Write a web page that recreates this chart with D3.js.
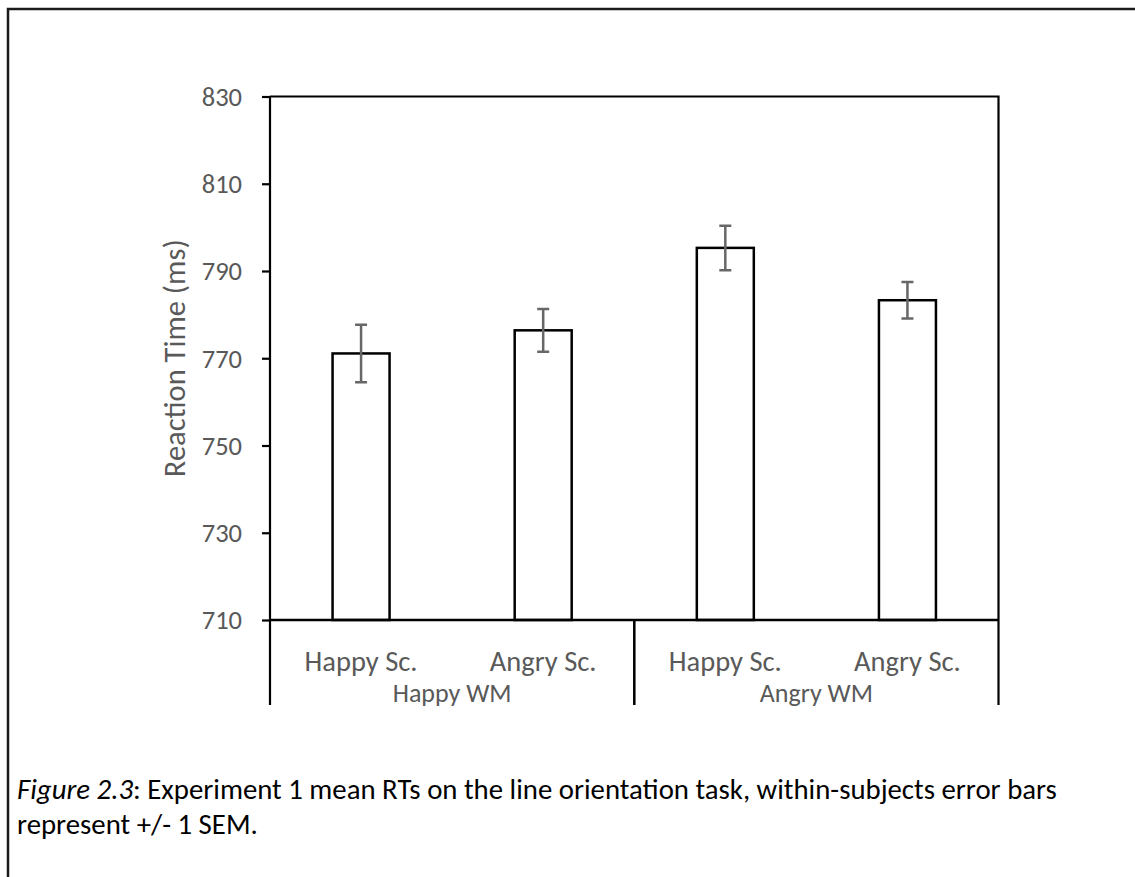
<!DOCTYPE html>
<html>
<head>
<meta charset="utf-8">
<script src="https://cdn.jsdelivr.net/npm/d3@7"></script>
<style>
  html, body { margin: 0; padding: 0; background: #fff; }
  svg { display: block; }
  text { font-family: Carlito, Lato, "Open Sans", sans-serif; }
</style>
</head>
<body>
<svg id="chart" width="1135" height="877"></svg>
<script>
// Mean reaction times per condition (ms) with within-subjects SEM
const conditions = ["Happy Sc.", "Angry Sc.", "Happy Sc.", "Angry Sc."];
const groups = ["Happy WM", "Happy WM", "Angry WM", "Angry WM"];
const groupNames = ["Happy WM", "Angry WM"];
const meanRT = [771.1, 776.4, 795.3, 783.3];
const sem = [6.6, 4.9, 5.1, 4.2];
const yTicks = [710, 730, 750, 770, 790, 810, 830];

const svg = d3.select("#chart");
const W = 1135, H = 877;

const plot = { left: 270, right: 998.5, top: 96.5, bottom: 620, catBottom: 705 };

const ids = conditions.map((c, i) => i);

const x = d3.scaleBand()
  .domain(ids)
  .range([plot.left, plot.right])
  .paddingInner(0.687)
  .paddingOuter(0.3435);

const y = d3.scaleLinear()
  .domain([710, 830])
  .range([plot.bottom, plot.top]);

// Outer figure frame (runs off the right and bottom of the page)
svg.append("rect")
  .attr("x", 8).attr("y", 9)
  .attr("width", W + 20).attr("height", H + 20)
  .attr("fill", "none")
  .attr("stroke", "#1a1a1a")
  .attr("stroke-width", 2.5);

// Plot area border (top and right)
svg.append("path")
  .attr("d", `M${plot.left},${plot.top}H${plot.right}V${plot.bottom}`)
  .attr("fill", "none")
  .attr("stroke", "#000")
  .attr("stroke-width", 2.2);

// Bars
svg.append("g").selectAll("rect")
  .data(ids)
  .join("rect")
  .attr("x", i => x(i))
  .attr("y", i => y(meanRT[i]))
  .attr("width", x.bandwidth())
  .attr("height", i => y(710) - y(meanRT[i]))
  .attr("fill", "#fff")
  .attr("stroke", "#000")
  .attr("stroke-width", 2.5);

// Error bars
const err = svg.append("g")
  .attr("stroke", "#676767")
  .attr("stroke-width", 2.5)
  .attr("fill", "none");
ids.forEach(i => {
  const cx = x(i) + x.bandwidth() / 2;
  const y0 = y(meanRT[i] - sem[i]);
  const y1 = y(meanRT[i] + sem[i]);
  err.append("path")
    .attr("d", `M${cx},${y0}V${y1}M${cx - 6},${y1}H${cx + 6}M${cx - 6},${y0}H${cx + 6}`);
});

// Y axis
const yAxis = d3.axisLeft(y)
  .tickValues(yTicks)
  .tickSize(8)
  .tickPadding(8)
  .tickFormat(d3.format("d"));
const gy = svg.append("g")
  .attr("transform", `translate(${plot.left},0)`)
  .call(yAxis);
gy.select(".domain").remove();
gy.selectAll(".tick line").attr("stroke", "#000").attr("stroke-width", 2.2);
gy.selectAll(".tick text")
  .attr("fill", "#595959")
  .style("font-size", "26.5px")
  .attr("x", -28)
  .attr("dy", "0.33em");

// Y axis line, extended through the category band
svg.append("line")
  .attr("x1", plot.left).attr("x2", plot.left)
  .attr("y1", plot.top).attr("y2", plot.catBottom)
  .attr("stroke", "#000").attr("stroke-width", 2.2);

// Baseline
svg.append("line")
  .attr("x1", plot.left).attr("x2", plot.right)
  .attr("y1", plot.bottom).attr("y2", plot.bottom)
  .attr("stroke", "#000").attr("stroke-width", 2.5);

// Group dividers and right edge of category band
const groupEdges = [];
groupNames.forEach(g => {
  const members = ids.filter(i => groups[i] === g);
  const x0 = x(members[0]) - x.step() * x.paddingInner() / 2;
  const x1 = x(members[members.length - 1]) + x.bandwidth() + x.step() * x.paddingInner() / 2;
  groupEdges.push({ g, x0, x1 });
});
const dividers = Array.from(new Set(groupEdges.flatMap(e => [e.x0, e.x1])))
  .filter(v => Math.abs(v - plot.left) > 1);
svg.append("g").selectAll("line")
  .data(dividers)
  .join("line")
  .attr("x1", d => d).attr("x2", d => d)
  .attr("y1", plot.bottom).attr("y2", plot.catBottom)
  .attr("stroke", "#000").attr("stroke-width", 2.2);

// Category labels
svg.append("g").selectAll("text")
  .data(ids)
  .join("text")
  .attr("x", i => x(i) + x.bandwidth() / 2)
  .attr("y", 671)
  .attr("text-anchor", "middle")
  .attr("fill", "#595959")
  .style("font-size", "28.5px")
  .text(i => conditions[i]);

// Group labels
svg.append("g").selectAll("text")
  .data(groupEdges)
  .join("text")
  .attr("x", d => (d.x0 + d.x1) / 2)
  .attr("y", 702)
  .attr("text-anchor", "middle")
  .attr("fill", "#595959")
  .style("font-size", "26px")
  .text(d => d.g);

// Y axis title
svg.append("text")
  .attr("transform", `translate(185,${(plot.top + plot.bottom) / 2}) rotate(-90)`)
  .attr("text-anchor", "middle")
  .attr("fill", "#595959")
  .style("font-size", "30.5px")
  .text("Reaction Time (ms)");

// Caption
const cap = svg.append("text")
  .attr("x", 17)
  .attr("y", 799)
  .attr("fill", "#000")
  .style("font-size", "28.8px");
cap.append("tspan").style("font-style", "italic").text("Figure 2.3");
cap.append("tspan").text(": Experiment 1 mean RTs on the line orientation task, within-subjects error bars");
svg.append("text")
  .attr("x", 17)
  .attr("y", 834)
  .attr("fill", "#000")
  .style("font-size", "28.8px")
  .text("represent +/- 1 SEM.");
</script>
</body>
</html>
